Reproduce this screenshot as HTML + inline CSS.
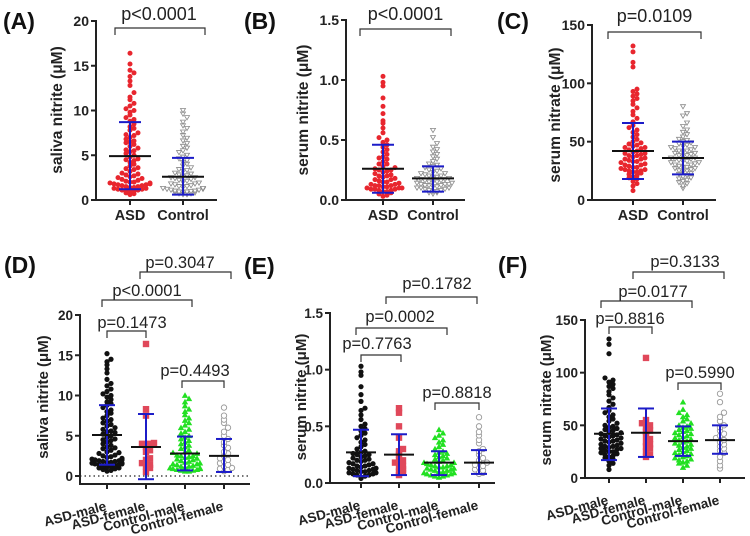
<!DOCTYPE html>
<html><head><meta charset="utf-8"><style>
html,body{margin:0;padding:0;background:#fff;}
svg{display:block;font-family:"Liberation Sans",Arial,sans-serif;}
</style></head><body>
<svg id="fig" width="750" height="536" viewBox="0 0 750 536" xmlns="http://www.w3.org/2000/svg"></svg>
<script>
// ---- data ----
const aAsd=[16.4,15.2,14.5,14.2,13.8,13.3,12.8,12,11.5,11.2,10.8,10.5,10.2,10,9.8,9.5,9.2,9,8.8,8.5,8.2,8,7.8,7.5,7.2,7,6.8,6.6,6.4,6.2,6,5.8,5.6,5.4,5.2,5,4.8,4.6,4.4,4.2,4,3.8,3.6,3.4,3.2,3,2.9,2.8,2.6,2.5,2.4,2.2,2.1,2,1.9,1.8,1.8,1.7,1.6,1.5,1.5,1.4,1.3,1.2,1.2,1.1,1,1,0.9,0.8,0.7,0.6,1.9,1.6,2.3,1.4,1.7,2,3.5,4.5,5.5,6.5,7.3,1.3,1.1,2.7];
const aCtl=[10,9.6,9.2,8.7,8.3,8,7.6,7.2,6.9,6.6,6.3,6,5.8,5.5,5.3,5,4.8,4.6,4.4,4.2,4,3.8,3.6,3.4,3.2,3,2.9,2.8,2.6,2.5,2.4,2.3,2.2,2.1,2,1.9,1.8,1.7,1.6,1.5,1.4,1.3,1.2,1.1,1,1,0.9,0.9,0.8,0.8,0.7,0.7,0.6,0.6,1.5,1.2,2.5,3.3,1.8,2.7,1.1,0.95,1.3,0.85];
const bAsd=[1.03,0.98,0.95,0.85,0.78,0.72,0.66,0.64,0.6,0.56,0.52,0.5,0.48,0.46,0.44,0.42,0.4,0.38,0.36,0.34,0.32,0.3,0.28,0.27,0.26,0.25,0.24,0.23,0.22,0.21,0.2,0.19,0.18,0.17,0.16,0.15,0.14,0.13,0.12,0.12,0.11,0.1,0.1,0.09,0.09,0.08,0.08,0.07,0.07,0.06,0.05,0.04,0.03,0.15,0.2,0.25,0.11,0.13,0.17,0.3,0.35,0.1,0.12,0.09];
const bCtl=[0.58,0.52,0.47,0.44,0.42,0.4,0.38,0.36,0.34,0.32,0.3,0.29,0.28,0.27,0.26,0.25,0.24,0.23,0.22,0.21,0.2,0.19,0.18,0.18,0.17,0.16,0.16,0.15,0.15,0.14,0.14,0.13,0.13,0.12,0.12,0.11,0.11,0.1,0.1,0.09,0.09,0.08,0.08,0.07,0.07,0.06,0.06,0.05,0.2,0.17,0.13,0.15,0.19,0.22,0.12,0.1];
const cAsd=[132,127,118,114,95,93,91,89,87,85,82,79,76,73,70,67,64,62,60,58,56,54,52,50,49,48,47,46,45,44,43,42,41,40,39,38,37,36,35,34,33,32,31,30,29,28,27,26,25,24,23,22,21,20,19,18,16,14,12,8,30,35,40,28,25,33,45,38,26,24];
const cCtl=[80,74,72,66,63,60,58,56,54,52,51,50,49,48,47,46,45,44,43,42,41,40,39,38,37,36,35,34,33,32,31,30,29,28,27,26,25,24,23,22,21,20,19,18,17,16,15,14,12,10,35,38,32,30,40,28,42,25,36,33,45,27];
const dAsdM=[15.2,14.5,14.2,13.8,13.3,12.8,12,11.5,11.2,10.8,10.5,10.2,10,9.8,9.5,9.2,9,8.8,8.5,8.2,8,7.8,7.5,7.2,7,6.8,6.6,6.4,6.2,6,5.8,5.6,5.4,5.2,5,4.8,4.6,4.4,4.2,4,3.8,3.6,3.4,3.2,3,2.9,2.8,2.6,2.5,2.4,2.2,2.1,2,1.9,1.8,1.8,1.7,1.6,1.5,1.5,1.4,1.3,1.2,1.2,1.1,1,1,0.9,0.8,0.7,0.6,1.9,1.6,2.3,1.4,1.7,2,3.5,4.5,5.5];
const dAsdF=[16.4,8.3,7.5,4,4,3.6,3.2,3,2.2,2,1.6,1.4,1.2,1.0,0.5,4.1];
const dCtlM=[10,9.6,9.2,8.7,8.3,8,7.6,7.2,6.9,6.6,6.3,6,5.8,5.5,5.3,5,4.8,4.6,4.4,4.2,4,3.8,3.6,3.4,3.2,3,2.9,2.8,2.6,2.5,2.4,2.3,2.2,2.1,2,1.9,1.8,1.7,1.6,1.5,1.4,1.3,1.2,1.1,1,1,0.9,0.9,0.8,0.8,0.7,0.7,0.6,0.6,1.5,1.2,2.5];
const dCtlF=[8.5,7.5,7,6.6,6,5.5,5,4.6,4.2,3.8,3.5,3,2.8,2.5,2.2,2,1.8,1.6,1.4,1.2,1,0.9,0.8,0.6];
const eAsdM=[1.03,0.98,0.95,0.85,0.78,0.72,0.66,0.64,0.6,0.56,0.52,0.5,0.48,0.46,0.44,0.42,0.4,0.38,0.36,0.34,0.32,0.3,0.28,0.27,0.26,0.25,0.24,0.23,0.22,0.21,0.2,0.19,0.18,0.17,0.16,0.15,0.14,0.13,0.12,0.12,0.11,0.1,0.1,0.09,0.09,0.08,0.08,0.07,0.07,0.06,0.05,0.04,0.15,0.2,0.25,0.11,0.13,0.17];
const eAsdF=[0.66,0.62,0.5,0.4,0.3,0.28,0.25,0.2,0.2,0.15,0.14,0.12,0.1,0.09,0.07,0.18];
const eCtlM=[0.47,0.44,0.42,0.4,0.38,0.36,0.34,0.32,0.3,0.28,0.27,0.26,0.25,0.24,0.23,0.22,0.21,0.2,0.19,0.18,0.18,0.17,0.16,0.16,0.15,0.15,0.14,0.14,0.13,0.13,0.12,0.12,0.11,0.11,0.1,0.1,0.09,0.09,0.08,0.08,0.07,0.07,0.06,0.06,0.05];
const eCtlF=[0.58,0.5,0.45,0.42,0.38,0.35,0.3,0.28,0.25,0.22,0.2,0.18,0.16,0.15,0.14,0.12,0.11,0.1,0.09,0.08];
const fAsdM=[132,127,118,95,93,91,89,87,85,82,79,76,73,70,67,64,62,60,58,56,54,52,50,49,48,47,46,45,44,43,42,41,40,39,38,37,36,35,34,33,32,31,30,29,28,27,26,25,24,23,22,21,20,19,18,16,14,12,8,30,35,40,28,25];
const fAsdF=[114,55,52,50,48,45,44,40,37,34,32,30,28,25,22,20];
const fCtlM=[72,65,62,60,58,56,54,52,50,49,48,47,46,45,44,43,42,41,40,39,38,37,36,35,34,33,32,31,30,29,28,27,26,25,24,23,22,21,20,19,18,17,16,15,14,12,10];
const fCtlF=[80,72,62,58,54,50,48,45,42,40,38,36,34,32,30,28,26,24,20,16,12,9];
// summary stats: mean, lower, upper
const aMeans=[4.9,2.6], aLo=[1.2,0.6], aHi=[8.7,4.7];
const bMeans=[0.26,0.18], bLo=[0.06,0.07], bHi=[0.46,0.28];
const cMeans=[42,36], cLo=[18,22], cHi=[66,50];
const dMeans=[5.1,3.6,2.8,2.5], dLo=[1.4,-0.4,0.7,0.5], dHi=[8.8,7.7,4.9,4.6];
const eMeans=[0.27,0.25,0.18,0.18], eLo=[0.06,0.07,0.07,0.08], eHi=[0.47,0.43,0.28,0.29];
const fMeans=[42,43,35,36], fLo=[17,20,21,23], fHi=[66,66,49,50];
const topCats=["ASD","Control"];
const botCats=["ASD-male","ASD-female","Control-male","Control-female"];
const salTicks=[0,5,10,15,20], serTicks=[0,0.5,1,1.5], serTickLabels=["0.0","0.5","1.0","1.5"], nitTicks=[0,50,100,150];

const NS="http://www.w3.org/2000/svg";
const svg=document.getElementById('fig');
function mk(tag,attrs,parent){const e=document.createElementNS(NS,tag);for(const k in attrs)e.setAttribute(k,attrs[k]);(parent||svg).appendChild(e);return e;}

function marker(g,kind,x,y){
  let e;
  if(kind==='circle-red'){e=mk('circle',{cx:x,cy:y,r:2.5,fill:'#e8262e'},g);}
  else if(kind==='circle-black'){e=mk('circle',{cx:x,cy:y,r:2.6,fill:'#111'},g);}
  else if(kind==='square-red'){e=mk('rect',{x:x-3.2,y:y-3.2,width:6.4,height:6.4,fill:'#e0485a'},g);}
  else if(kind==='tri-green'){e=mk('path',{d:`M${x} ${y-3.2}L${x+3.2} ${y+2.4}L${x-3.2} ${y+2.4}Z`,fill:'#22e022'},g);}
  else if(kind==='tri-open'){e=mk('path',{d:`M${x-2.5} ${y-2}L${x+2.5} ${y-2}L${x} ${y+2.2}Z`,fill:'#fff',stroke:'#888','stroke-width':0.8},g);}
  else {e=mk('circle',{cx:x,cy:y,r:2.7,fill:'#fff',stroke:'#999','stroke-width':0.9},g);}
  
  
}

function panel(c){
  const g=mk('g',{});
  
  
  const ys=v=>c.y0+(v-0)*(c.yTop-c.y0)/(c.ymax);
  const t=mk('text',{x:c.titleX,y:c.titleY,'font-size':23,'font-weight':'bold',fill:'#111'},g);t.textContent=c.title;
  
  const ya=mk('line',{x1:c.ax,y1:ys(c.ymax)-1,x2:c.ax,y2:c.xAxisY+1,stroke:'#222','stroke-width':2},g);
  
  const xa=mk('line',{x1:c.ax-1,y1:c.xAxisY,x2:c.xEnd,y2:c.xAxisY,stroke:'#222','stroke-width':2},g);
  
  if(c.dotted){const d=mk('line',{x1:c.ax,y1:ys(0),x2:c.xEnd,y2:ys(0),stroke:'#222','stroke-width':1.2,'stroke-dasharray':'1.5 3'},g);
    }
  c.ticks.forEach((v,i)=>{
    mk('line',{x1:c.ax-5,y1:ys(v),x2:c.ax,y2:ys(v),stroke:'#222','stroke-width':2},g);
    const tl=mk('text',{x:c.ax-7,y:ys(v)+5,'font-size':c.tickFs,'font-weight':'bold','text-anchor':'end',fill:'#222'},g);
    tl.textContent=c.tickLabels[i];
    
  });
  const yl=mk('text',{x:c.ylx,y:c.yly,'font-size':c.ylFs,'font-weight':'bold','text-anchor':'middle',fill:'#222',transform:`rotate(-90 ${c.ylx} ${c.yly})`},g);
  yl.textContent=c.ylabel;
  c.groups.forEach((gr,gi)=>{
    const gx=c.gx[gi];
    mk('line',{x1:gx,y1:c.xAxisY,x2:gx,y2:c.xAxisY+5,stroke:'#222','stroke-width':2},g);
    const sorted=gr.vals.slice().sort((a,b)=>a-b);
    const rows={};
    sorted.forEach(v=>{
      const py=ys(v);const key=Math.round(py/c.rowH);
      rows[key]=(rows[key]||0)+1;const k=rows[key]-1;
      const off=(k===0?0:(k%2?1:-1)*Math.ceil(k/2))*c.spread;
      marker(g,gr.kind,gx+Math.max(-c.maxOff,Math.min(c.maxOff,off)),py);
    });
    const m=c.means[gi],lo=c.lo[gi],hi=c.hi[gi];
    const eb=mk('g',{},g);
    mk('line',{x1:gx,y1:ys(lo),x2:gx,y2:ys(hi),stroke:'#1c1cc8','stroke-width':2},eb);
    mk('line',{x1:gx-c.cap,y1:ys(lo),x2:gx+c.cap,y2:ys(lo),stroke:'#1c1cc8','stroke-width':2},eb);
    mk('line',{x1:gx-c.cap,y1:ys(hi),x2:gx+c.cap,y2:ys(hi),stroke:'#1c1cc8','stroke-width':2},eb);
    const ml=mk('line',{x1:gx-c.mw,y1:ys(m),x2:gx+c.mw,y2:ys(m),stroke:'#111','stroke-width':2},g);
    
    let xl;
    if(c.rot){const ex=gx,ey=c.xAxisY+26;
      xl=mk('text',{x:ex,y:ey,'font-size':13.5,'font-weight':'bold','text-anchor':'end',fill:'#222',transform:`rotate(-15 ${ex} ${ey})`},g);}
    else xl=mk('text',{x:gx,y:c.xlY,'font-size':14.5,'font-weight':'bold','text-anchor':'middle',fill:'#222'},g);
    xl.textContent=gr.label;
  });
  c.brackets.forEach(b=>{
    const bg=mk('g',{},g);
    mk('path',{d:`M${b[0]} ${b[2]+7}V${b[2]}H${b[1]}V${b[2]+7}`,fill:'none',stroke:'#333','stroke-width':1.2},bg);
    const pt=mk('text',{x:b[5]||(b[0]+b[1])/2,y:b[3]+6,'font-size':c.pFs,'text-anchor':'middle',fill:'#222'},bg);
    pt.textContent=b[4];
  });
}

const topG=(a,b,k1,k2)=>[{vals:a,kind:k1,label:topCats[0]},{vals:b,kind:k2,label:topCats[1]}];
const common={rowH:5,spread:4};
panel(Object.assign({},common,{name:'panel-a',title:'(A)',titleX:3,titleY:29,ax:96,y0:200,yTop:21,ymax:20,xAxisY:200,xEnd:217,ticks:salTicks,tickLabels:['0','5','10','15','20'],tickFs:14,ylabel:'saliva nitrite (\u03bcM)',ylx:62,yly:110,ylFs:15.5,gx:[130,183],groups:topG(aAsd,aCtl,'circle-red','tri-open'),means:aMeans,lo:aLo,hi:aHi,cap:11,mw:21,maxOff:20,xlY:220,brackets:[[115,205,28,14,'p<0.0001',159]],pFs:18}));
panel(Object.assign({},common,{name:'panel-b',title:'(B)',titleX:244,titleY:29,ax:346,y0:200,yTop:20,ymax:1.5,xAxisY:200,xEnd:465,ticks:serTicks,tickLabels:serTickLabels,tickFs:14,ylabel:'serum nitrite (\u03bcM)',ylx:308,yly:110,ylFs:15.5,gx:[383,433],groups:topG(bAsd,bCtl,'circle-red','tri-open'),means:bMeans,lo:bLo,hi:bHi,cap:11,mw:21,maxOff:19,xlY:220,brackets:[[360,451,29,14,'p<0.0001']],pFs:18}));
panel(Object.assign({},common,{name:'panel-c',title:'(C)',titleX:497,titleY:29,ax:592,y0:200,yTop:25,ymax:150,xAxisY:200,xEnd:716,ticks:nitTicks,tickLabels:['0','50','100','150'],tickFs:14,ylabel:'serum nitrate (\u03bcM)',ylx:560,yly:115,ylFs:15.5,gx:[633,683],groups:topG(cAsd,cCtl,'circle-red','tri-open'),means:cMeans,lo:cLo,hi:cHi,cap:11,mw:21,maxOff:19,xlY:220,brackets:[[608,701,32,16,'p=0.0109']],pFs:18}));
const botG=(a,b,c2,d,lastKind)=>[{vals:a,kind:'circle-black',label:botCats[0]},{vals:b,kind:'square-red',label:botCats[1]},{vals:c2,kind:'tri-green',label:botCats[2]},{vals:d,kind:lastKind,label:botCats[3]}];
panel(Object.assign({},common,{name:'panel-d',title:'(D)',titleX:4,titleY:273,ax:80,y0:476,yTop:315,ymax:20,xAxisY:484,xEnd:250,dotted:true,ticks:salTicks,tickLabels:['0','5','10','15','20'],tickFs:13.5,ylabel:'saliva nitrite (\u03bcM)',ylx:48,yly:397,ylFs:15,gx:[107,146,185,224],groups:botG(dAsdM,dAsdF,dCtlM,dCtlF,'circle-open'),means:dMeans,lo:dLo,hi:dHi,cap:8,mw:15,maxOff:15,rot:true,
  brackets:[[107,146,331,322,'p=0.1473',132],[102,192,300,290,'p<0.0001',147],[140,231,272,262,'p=0.3047',180],[182,224,381,370,'p=0.4493',195]],pFs:16.5}));
panel(Object.assign({},common,{name:'panel-e',title:'(E)',titleX:244,titleY:274,ax:330,y0:483,yTop:313,ymax:1.5,xAxisY:483,xEnd:495,ticks:serTicks,tickLabels:serTickLabels,tickFs:13.5,ylabel:'serum nitrite (\u03bcM)',ylx:306,yly:397,ylFs:15,gx:[361,399,439,479],groups:botG(eAsdM,eAsdF,eCtlM,eCtlF,'circle-open'),means:eMeans,lo:eLo,hi:eHi,cap:8,mw:15,maxOff:15,rot:true,
  brackets:[[361,401,355,343,'p=0.7763',377],[356,447,328,316,'p=0.0002',400],[386,477,297,283,'p=0.1782',437],[435,479,403,392,'p=0.8818',457]],pFs:16.5}));
panel(Object.assign({},common,{name:'panel-f',title:'(F)',titleX:498,titleY:273,ax:585,y0:478,yTop:320,ymax:150,xAxisY:478,xEnd:745,ticks:nitTicks,tickLabels:['0','50','100','150'],tickFs:13.5,ylabel:'serum nitrate (\u03bcM)',ylx:551,yly:400,ylFs:15,gx:[609,646,683,720],groups:botG(fAsdM,fAsdF,fCtlM,fCtlF,'circle-open'),means:fMeans,lo:fLo,hi:fHi,cap:8,mw:15,maxOff:15,rot:true,
  brackets:[[609,652,327,318,'p=0.8816',630],[601,692,301,291,'p=0.0177',653],[633,724,272,261,'p=0.3133',685],[678,721,383,372,'p=0.5990',700]],pFs:16.5}));
</script>
</body></html>
